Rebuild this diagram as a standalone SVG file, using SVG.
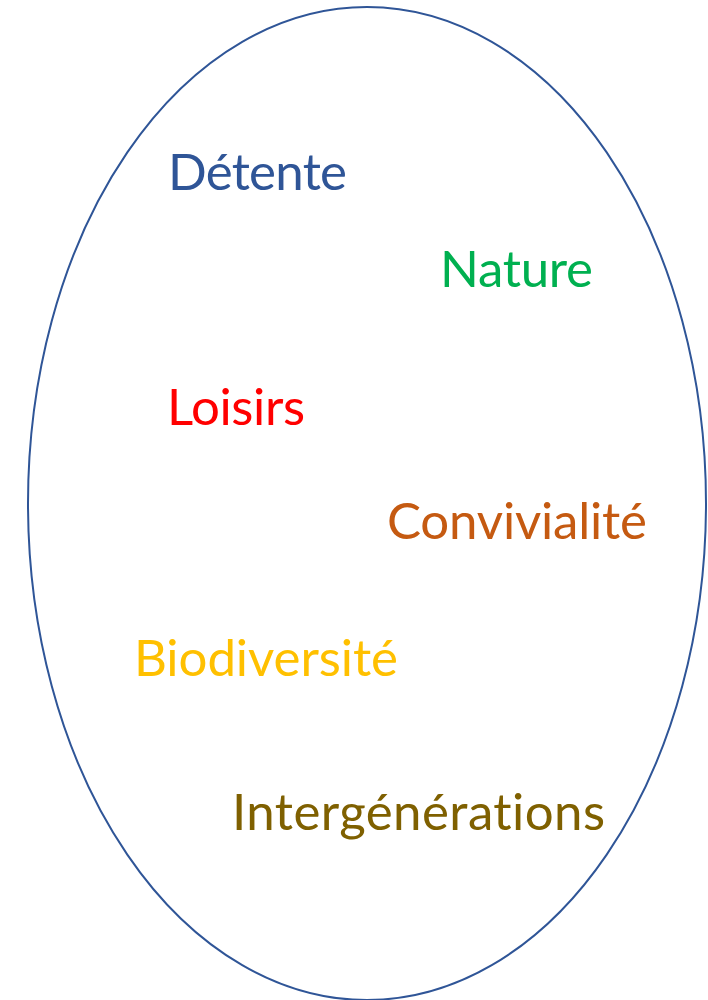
<svg xmlns="http://www.w3.org/2000/svg" width="708" height="1000" viewBox="0 0 708 1000">
<style>
text{font-family:Lato,"Open Sans","Liberation Sans",sans-serif;font-size:51px;font-variant-ligatures:none;font-feature-settings:"liga" 0}
</style>
<rect width="708" height="1000" fill="#fff"/>
<g id="ellipse"><ellipse cx="367" cy="503.5" rx="339" ry="496.5" fill="none" stroke="#2F5597" stroke-width="2"/></g>
<g id="detente"><text x="168" y="190" fill="#2F5597" textLength="179">Détente</text></g>
<g id="nature"><text x="440" y="287" fill="#00B050" textLength="153">Nature</text></g>
<g id="loisirs"><text x="167" y="425" fill="#FF0000" textLength="138">Loisirs</text></g>
<g id="convivialite"><text x="387" y="539" fill="#C55A11" textLength="260">Convivialité</text></g>
<g id="biodiversite"><text x="134" y="676" fill="#FFC000" textLength="264">Biodiversité</text></g>
<g id="intergenerations"><text x="232" y="830" fill="#7F6000" textLength="373">Intergénérations</text></g>
</svg>
